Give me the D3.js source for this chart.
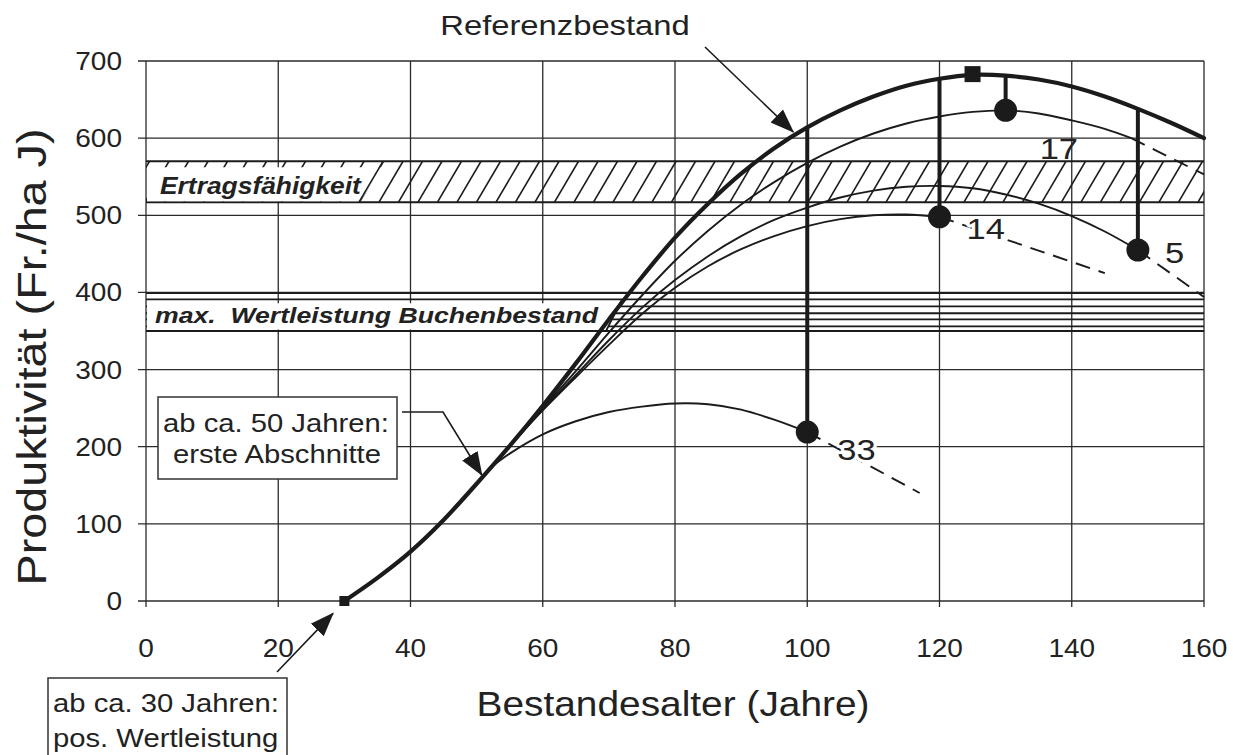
<!DOCTYPE html>
<html><head><meta charset="utf-8">
<script src="https://cdn.jsdelivr.net/npm/d3@7"></script>
<style>body{margin:0;background:#fff}svg{display:block}</style>
</head><body>
<svg id="c" width="1233" height="755"></svg>
<script>
// ---- data ----
const xTicks = [0,20,40,60,80,100,120,140,160];
const yTicks = [0,100,200,300,400,500,600,700];

const refAge   = [30,35,40,45,50,55,60,65,70,75,80,85,90,95,100,105,110,115,120,125,130,135,140,145,150,155,160];
const refValue = [0,30,64,105,152,201,253,308,365,420,471,515,554,587,614,636,654,668,677,682,681,676,667,654,638,620,600];

const s33Age   = [52,55,60,65,70,75,80,85,90,95,100];
const s33Value = [172,191,216,233,245,252,256,255,248,235,219];
const s33DashAge = [100,117], s33DashValue = [219,140];

const s14Age   = [55,60,65,70,75,80,85,90,95,100,105,110,115,120];
const s14Value = [201,247,290,332,372,406,434,456,473,486,495,500,501,498];
const s14DashAge = [120,145], s14DashValue = [498,425];

const s5Age   = [55,60,65,70,75,80,85,90,95,100,105,110,115,120,125,130,135,140,145,150];
const s5Value = [201,248,293,338,380,416,447,473,494,510,523,532,537,538,535,527,515,499,479,455];
const s5DashAge = [150,160], s5DashValue = [455,394];

const s17Age   = [55,60,65,70,75,80,85,90,95,100,105,110,115,120,125,130,135,140,145,149];
const s17Value = [201,250,298,348,396,441,480,514,543,568,589,606,619,628,634,636,632,623,612,600];
const s17DashAge = [149,160], s17DashValue = [600,553];

const cutAge   = [100,120,130,150];
const cutValue = [219,498,636,455];
const cutLabel = ["33","14","17","5"];

const yieldBand = [517,570];
const maxValueLines = [350,356,365,373,382,391,399];
const startMarker = {age:30, value:0};
const peakMarker  = {age:125, value:683};

const xTitle = "Bestandesalter (Jahre)";
const yTitle = "Produktivität (Fr./ha J)";

// ---- layout ----
const svg = d3.select("#c");
const X0 = 146, X1 = 1204, Y0 = 601, Y1 = 61;
const x = d3.scaleLinear().domain([0,160]).range([X0,X1]);
const y = d3.scaleLinear().domain([0,700]).range([Y0,Y1]);
const ink = "#1b1b1b";
const FONT = "'Liberation Sans', Arial, Helvetica, sans-serif";

function txt(g, px, py, str, o={}) {
  const t = g.append("text")
    .attr("transform", `translate(${px},${py}) rotate(${o.rot||0}) scale(${o.sx||1.15},1)`)
    .attr("font-family", FONT)
    .attr("font-size", o.size||25)
    .attr("font-weight", o.weight||"normal")
    .attr("font-style", o.style||"normal")
    .attr("text-anchor", o.anchor||"start")
    .attr("fill", o.fill||"#222")
    .style("white-space","pre")
    .text(str);
  if (o.halo) t.attr("stroke","#fff").attr("stroke-width",o.halo).attr("paint-order","stroke").attr("stroke-linejoin","round");
  return t;
}

const defs = svg.append("defs");
defs.append("marker").attr("id","ah").attr("markerUnits","userSpaceOnUse")
  .attr("viewBox","0 0 24 20").attr("refX",23).attr("refY",10)
  .attr("markerWidth",24).attr("markerHeight",20).attr("orient","auto")
  .append("path").attr("d","M0,1 L24,10 L0,19 Z").attr("fill",ink);
defs.append("clipPath").attr("id","bandclip").append("rect")
  .attr("x",X0).attr("y",y(yieldBand[1])).attr("width",X1-X0).attr("height",y(yieldBand[0])-y(yieldBand[1]));

// grid
const grid = svg.append("g").attr("stroke","#2a2a2a").attr("stroke-width",1.3);
grid.selectAll(".v").data(xTicks).join("line")
  .attr("x1",d=>x(d)).attr("x2",d=>x(d)).attr("y1",Y1).attr("y2",Y0+6);
grid.selectAll(".h").data(yTicks).join("line")
  .attr("x1",X0-8).attr("x2",X1).attr("y1",d=>y(d)).attr("y2",d=>y(d));

// tick labels
const tl = svg.append("g");
yTicks.forEach(v => txt(tl, 122, y(v)+9, String(v), {size:25, anchor:"end", sx:1.12}));
xTicks.forEach(v => txt(tl, x(v), 657, String(v), {size:25, anchor:"middle", sx:1.12}));

// axis titles
txt(svg, 673, 716, xTitle, {size:35, anchor:"middle", sx:1.11});
txt(svg, 46, 357, yTitle, {size:41, anchor:"middle", sx:1.14, rot:-90});

// yield band (Ertragsfähigkeit)
const band = svg.append("g");
const bt = y(yieldBand[1]), bb = y(yieldBand[0]);
const hatch = band.append("g").attr("clip-path","url(#bandclip)").attr("stroke",ink).attr("stroke-width",1.6);
d3.range(X0-40, X1+40, 19.5).forEach(px => {
  hatch.append("line").attr("x1",px).attr("y1",bb).attr("x2",px+24).attr("y2",bt);
});
band.selectAll(".bl").data(yieldBand).join("line")
  .attr("x1",X0).attr("x2",X1).attr("y1",d=>y(d)).attr("y2",d=>y(d))
  .attr("stroke",ink).attr("stroke-width",2);
band.append("path").attr("d",`M${X0+1},${bt+6} L383,${bt+6} L360,${bb-1} L${X0+1},${bb-1} Z`).attr("fill","#fff");
band.append("line").attr("x1",383).attr("y1",bt).attr("x2",359).attr("y2",bb).attr("stroke",ink).attr("stroke-width",1.6);
txt(band, 160, 194, "Ertragsfähigkeit", {size:24, weight:"bold", style:"italic", sx:1.1});

// max. Wertleistung Buchenbestand lines
const mw = svg.append("g");
mw.selectAll("line").data(maxValueLines).join("line")
  .attr("x1",X0).attr("x2",X1).attr("y1",d=>y(d)).attr("y2",d=>y(d))
  .attr("stroke",ink).attr("stroke-width",1.8);
mw.append("path").attr("d",`M${X0+1},${y(386)} L620,${y(386)} L607,${y(352)} L${X0+1},${y(352)} Z`).attr("fill","#fff");
mw.append("line").attr("x1",622).attr("y1",y(391)).attr("x2",606).attr("y2",y(350)).attr("stroke",ink).attr("stroke-width",1.8);
txt(mw, 155, 323, "max.  Wertleistung Buchenbestand", {size:22, weight:"bold", style:"italic", sx:1.21});

// curves
const line = d3.line().x(d=>x(d[0])).y(d=>y(d[1])).curve(d3.curveCatmullRom.alpha(0.5));
const zip = (a,b) => a.map((v,i)=>[v,b[i]]);
const curves = svg.append("g").attr("fill","none").attr("stroke",ink).attr("stroke-linecap","round");
[[s33Age,s33Value],[s14Age,s14Value],[s5Age,s5Value],[s17Age,s17Value]].forEach(([a,v]) =>
  curves.append("path").attr("d",line(zip(a,v))).attr("stroke-width",1.9));
[[s33DashAge,s33DashValue],[s14DashAge,s14DashValue],[s5DashAge,s5DashValue],[s17DashAge,s17DashValue]].forEach(([a,v]) =>
  curves.append("path").attr("d",line(zip(a,v))).attr("stroke-width",1.9).attr("stroke-dasharray","15 9").attr("stroke-linecap","butt"));
curves.append("path").attr("d",line(zip(refAge,refValue))).attr("stroke-width",4.2);

// cut lines + dots
const refAt = a => refValue[refAge.indexOf(a)];
const cuts = svg.append("g");
cuts.selectAll("line").data(cutAge).join("line")
  .attr("x1",d=>x(d)).attr("x2",d=>x(d)).attr("y1",d=>y(refAt(d))).attr("y2",(d,i)=>y(cutValue[i]))
  .attr("stroke",ink).attr("stroke-width",4);
cuts.selectAll("circle").data(cutAge).join("circle")
  .attr("cx",d=>x(d)).attr("cy",(d,i)=>y(cutValue[i])).attr("r",11.5).attr("fill",ink);
const labOff = [[30,28],[27,22],[34,49],[27,13]];
cutLabel.forEach((l,i) => txt(cuts, x(cutAge[i])+labOff[i][0], y(cutValue[i])+labOff[i][1], l, {size:30, sx:1.15, halo:i<2?6:0}));

// markers
svg.append("rect").attr("x",x(startMarker.age)-5).attr("y",y(startMarker.value)-5).attr("width",10).attr("height",10).attr("fill",ink);
svg.append("rect").attr("x",x(peakMarker.age)-8).attr("y",y(peakMarker.value)-8).attr("width",16).attr("height",16).attr("fill",ink);

// annotations
const ann = svg.append("g");
txt(ann, 565, 35, "Referenzbestand", {size:28, sx:1.17, anchor:"middle"});
ann.append("path").attr("d",`M705,47 L${x(97.9)},${y(608)}`).attr("stroke",ink).attr("stroke-width",1.6).attr("fill","none").attr("marker-end","url(#ah)");

ann.append("rect").attr("x",158).attr("y",397).attr("width",239).attr("height",82).attr("fill","#fff").attr("stroke","#333").attr("stroke-width",1.5);
txt(ann, 163, 432, "ab ca. 50 Jahren:", {size:25, sx:1.17});
txt(ann, 173, 463, "erste Abschnitte", {size:25, sx:1.17});
ann.append("path").attr("d",`M402,412 L443,412 L${x(50.8)},${y(163)}`).attr("stroke",ink).attr("stroke-width",1.6).attr("fill","none").attr("marker-end","url(#ah)");

ann.append("rect").attr("x",48).attr("y",678).attr("width",239).attr("height",95).attr("fill","#fff").attr("stroke","#333").attr("stroke-width",1.5);
txt(ann, 53, 712, "ab ca. 30 Jahren:", {size:25, sx:1.17});
txt(ann, 53, 747, "pos. Wertleistung", {size:25, sx:1.17});
ann.append("path").attr("d",`M277,672 L${x(28.3)},${y(-16)}`).attr("stroke",ink).attr("stroke-width",1.6).attr("fill","none").attr("marker-end","url(#ah)");
</script>
</body></html>
